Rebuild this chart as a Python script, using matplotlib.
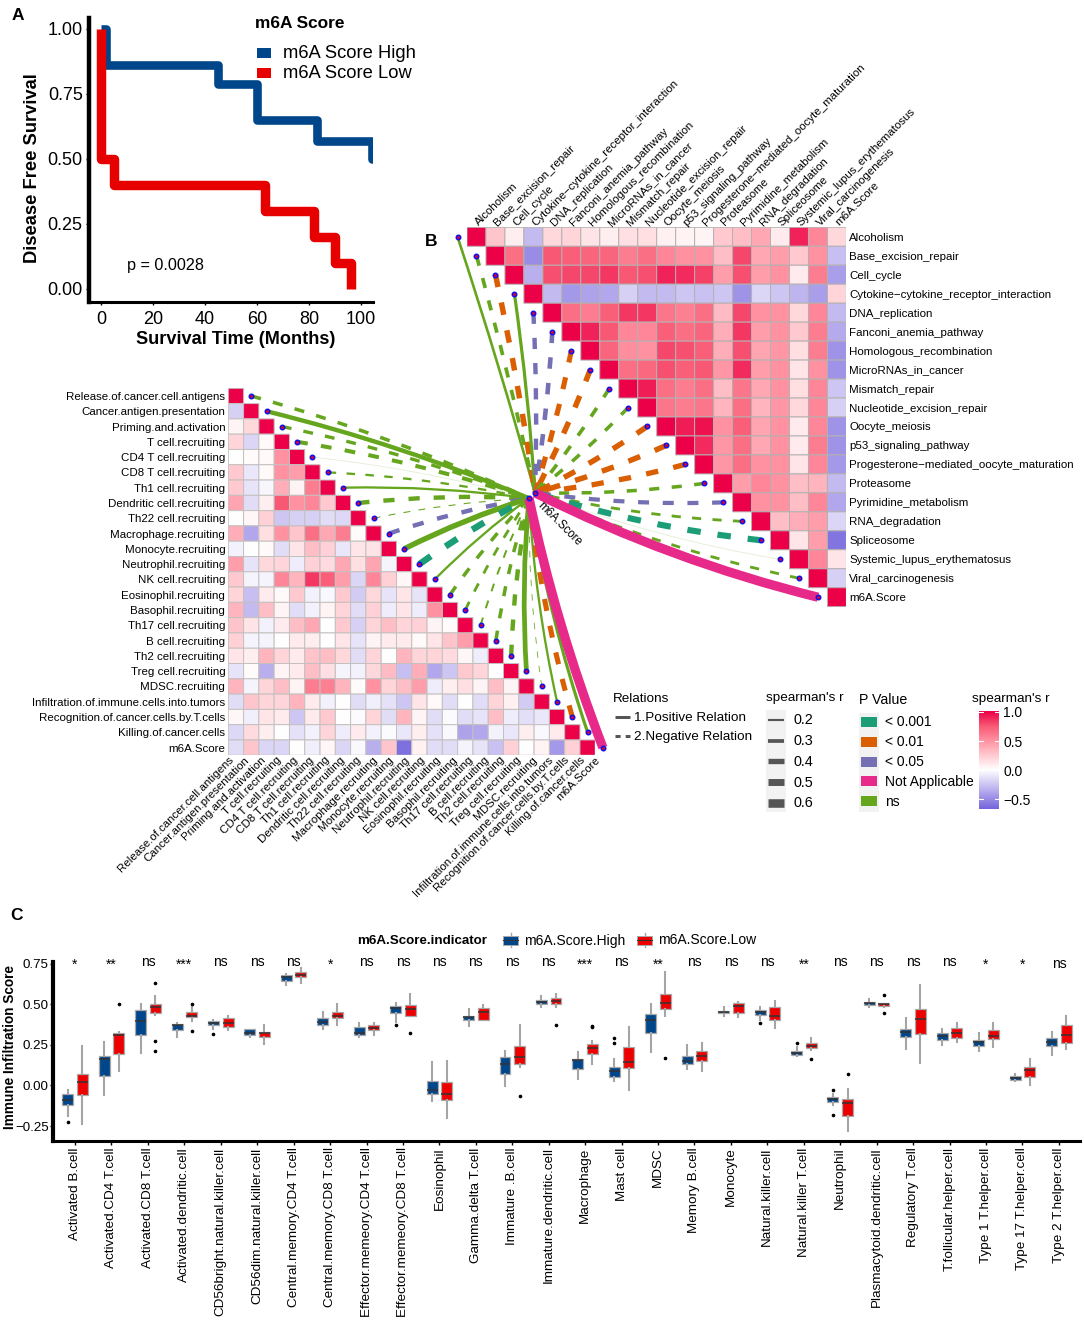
import numpy as np
import matplotlib
matplotlib.use("Agg")
import matplotlib.pyplot as plt
from matplotlib.colors import LinearSegmentedColormap, TwoSlopeNorm
from matplotlib.patches import PathPatch, Rectangle
from matplotlib.path import Path

plt.rcParams['font.family'] = ['Liberation Sans', 'DejaVu Sans']
W, H = 1084, 1324

# ---------- Panel A data ----------
km_high_t = [0, 2, 45, 60, 83, 104.3, 110]
km_high_s = [1.0, 0.86, 0.79, 0.65, 0.57, 0.50, 0.50]
km_low_t = [0, 0.01, 5, 63, 82, 90, 96, 96]
km_low_s = [1.0, 0.5, 0.40, 0.30, 0.20, 0.10, 0.0, 0.0]

# ---------- Panel B data ----------
b_labels = ["Alcoholism", "Base_excision_repair", "Cell_cycle", "Cytokine\u2212cytokine_receptor_interaction",
            "DNA_replication", "Fanconi_anemia_pathway", "Homologous_recombination", "MicroRNAs_in_cancer",
            "Mismatch_repair", "Nucleotide_excision_repair", "Oocyte_meiosis", "p53_signaling_pathway",
            "Progesterone\u2212mediated_oocyte_maturation", "Proteasome", "Pyrimidine_metabolism", "RNA_degradation",
            "Spliceosome", "Systemic_lupus_erythematosus", "Viral_carcinogenesis", "m6A.Score"]
b_rows = [
    [1, .27, .08, -.3, .18, .2, .13, .08, .15, .15, .07, .06, .05, .25, .3, .4, .1, .9, .55, .18],
    [1, .65, -.5, .75, .72, .7, .7, .6, .65, .55, .5, .5, .3, .8, .4, .45, .25, .5, -.28],
    [1, -.35, .78, .8, .8, .85, .75, .78, .9, .88, .82, .45, .78, .45, .5, .1, .6, -.42],
    [1, -.3, -.45, -.4, -.38, -.2, -.3, -.3, -.25, -.27, -.25, -.47, -.18, -.25, -.32, -.42, .2],
    [1, .65, .6, .72, .85, .85, .62, .58, .65, .32, .8, .5, .5, .18, .55, -.3],
    [1, .9, .75, .55, .55, .72, .65, .7, .38, .85, .45, .5, .25, .6, -.37],
    [1, .7, .52, .5, .8, .78, .72, .38, .78, .42, .48, .15, .6, -.47],
    [1, .65, .68, .78, .72, .75, .48, .88, .45, .5, .12, .5, -.47],
    [1, .92, .65, .6, .65, .3, .62, .4, .5, .15, .55, -.25],
    [1, .62, .6, .62, .35, .65, .35, .48, .18, .55, -.2],
    [1, .92, .95, .5, .72, .42, .5, .1, .55, -.47],
    [1, .88, .48, .65, .4, .5, .1, .6, -.47],
    [1, .48, .65, .5, .5, .12, .55, -.45],
    [1, .45, .55, .5, .3, .35, -.3],
    [1, .5, .5, .3, .55, -.38],
    [1, .3, .38, .45, -.18],
    [1, .12, .45, -.6],
    [1, .55, .12],
    [1, -.2],
    [1],
]
b_link_r = [.22, -.28, -.38, .25, -.32, -.33, -.36, -.38, -.28, -.27, -.38, -.38, -.37, -.27, -.31, -.23, -.42, .05, -.23, .6]
b_link_p = ["ns", "ns", "<0.01", "ns", "<0.05", "<0.05", "<0.01", "<0.01", "ns", "ns", "<0.01", "<0.01", "<0.01",
            "ns", "<0.05", "ns", "<0.001", "ns", "ns", "NA"]

# ---------- Immune-cycle heatmap data ----------
l_labels = ["Release.of.cancer.cell.antigens", "Cancer.antigen.presentation", "Priming.and.activation",
            "T cell.recruiting", "CD4 T cell.recruiting", "CD8 T cell.recruiting", "Th1 cell.recruiting",
            "Dendritic cell.recruiting", "Th22 cell.recruiting", "Macrophage.recruiting", "Monocyte.recruiting",
            "Neutrophil.recruiting", "NK cell.recruiting", "Eosinophil.recruiting", "Basophil.recruiting",
            "Th17 cell.recruiting", "B cell.recruiting", "Th2 cell.recruiting", "Treg cell.recruiting",
            "MDSC.recruiting", "Infiltration.of.immune.cells.into.tumors", "Recognition.of.cancer.cells.by.T.cells",
            "Killing.of.cancer.cells", "m6A.Score"]
l_rows = [
    [1],
    [-.2, 1],
    [.05, .18, 1],
    [.2, -.18, .03, 1],
    [0, .02, .03, .5, 1],
    [.25, -.1, .03, .5, .45, 1],
    [.25, -.12, -.04, .38, .05, .6, 1],
    [.42, -.15, .08, .75, .5, .55, .25, 1],
    [0, .04, .22, -.25, -.2, -.2, -.15, -.17, 1],
    [.38, -.38, .15, .5, .27, .65, .4, .6, .02, 1],
    [-.06, 0, .03, -.15, .12, .3, .22, -.1, .12, .13, 1],
    [.45, -.12, .18, .2, -.08, .22, .17, .4, .15, .42, -.05, 1],
    [.25, -.05, -.05, .55, .35, .85, .72, .45, -.18, .55, .22, .04, 1],
    [.2, -.28, .1, .03, .25, -.06, -.03, .25, -.22, .18, -.12, .12, -.12, 1],
    [.35, -.3, .3, .05, -.15, -.06, .06, .2, -.15, .22, -.08, .12, -.08, .5, 1],
    [.28, .13, -.06, .1, .3, .4, 0, .25, -.2, .2, .3, .2, .22, .05, .02, 1],
    [.22, -.05, -.05, 0, .1, .08, 0, .12, -.12, .05, .1, .1, .03, .12, .28, .45, 1],
    [.12, .08, .35, .2, .1, .28, .3, .18, -.15, .2, 0, .35, .2, .2, .17, .04, -.08, 1],
    [-.12, .02, -.35, .05, .1, .3, .15, -.05, -.06, .18, .32, -.28, .38, -.38, -.25, .25, .2, 0, 1],
    [.35, -.05, .2, .3, .05, .6, .58, .35, .02, .5, .2, .3, .45, -.08, .08, .15, .05, .3, .05, 1],
    [-.15, .27, .2, .2, .35, .1, -.06, 0, -.15, -.07, -.13, -.25, .12, .03, -.15, 0, -.15, .2, .07, -.22, 1],
    [.04, -.07, .12, .1, -.25, .1, .25, 0, -.02, .2, -.15, .35, .05, -.15, -.02, -.15, -.12, .3, -.08, -.14, -.1, 1],
    [-.17, .17, .08, 0, -.13, -.06, .2, -.08, .1, -.06, -.02, -.1, .08, -.13, -.03, -.4, -.38, -.06, -.1, .08, -.03, .1, 1],
    [-.15, .27, -.18, -.18, 0, -.07, .04, -.18, -.03, -.35, .27, -.62, .07, -.15, -.15, -.05, -.12, -.27, .22, 0, .06, -.45, .22, 1],
]
l_link_r = [-.27, .32, -.26, -.3, .05, -.2, .2, -.32, -.13, -.32, .38, -.44, .2, -.27, -.23, -.18, -.27, -.32, .34, -.1, .2, -.36, .25, .6]
l_link_p = ["ns", "ns", "ns", "ns", "ns", "ns", "ns", "ns", "ns", "<0.05", "ns", "<0.001", "ns", "ns", "ns", "ns", "ns",
            "ns", "ns", "ns", "ns", "<0.01", "ns", "NA"]

# ---------- Legend data ----------
size_levels = [0.2, 0.3, 0.4, 0.5, 0.6]
p_levels = ["< 0.001", "< 0.01", "< 0.05", "Not Applicable", "ns"]
p_keys = ["<0.001", "<0.01", "<0.05", "NA", "ns"]
p_colors = {"<0.001": "#1B9E77", "<0.01": "#D95F02", "<0.05": "#7570B3", "NA": "#E7298A", "ns": "#66A61E"}
cbar_ticks = [1.0, 0.5, 0.0, -0.5]

# ---------- Panel C data ----------
cells = ["Activated B.cell", "Activated.CD4 T.cell", "Activated.CD8 T.cell", "Activated.dendritic.cell",
         "CD56bright.natural.killer.cell", "CD56dim.natural.killer.cell", "Central.memory.CD4 T.cell",
         "Central.memory.CD8 T.cell", "Effector.memeory.CD4 T.cell", "Effector.memeory.CD8 T.cell", "Eosinophil",
         "Gamma.delta T.cell", "Immature .B.cell", "Immature.dendritic.cell", "Macrophage", "Mast cell", "MDSC",
         "Memory B.cell", "Monocyte", "Natural.killer.cell", "Natural.killer T.cell", "Neutrophil",
         "Plasmacytoid.dendritic.cell", "Regulatory T.cell", "T.follicular.helper.cell", "Type 1 T.helper.cell",
         "Type 17 T.helper.cell", "Type 2 T.helper.cell"]
signif = ["*", "**", "ns", "***", "ns", "ns", "ns", "*", "ns", "ns", "ns", "ns", "ns", "ns", "***", "ns", "**", "ns",
          "ns", "ns", "**", "ns", "ns", "ns", "ns", "*", "*", "ns"]
# each box: whisker low, q1, median, q3, whisker high
high_box = [(-.19, -.12, -.09, -.05, -.03), (-.06, .06, .165, .18, .265), (.2, .31, .395, .465, .5),
            (.3, .34, .37, .38, .385), (.345, .37, .385, .395, .405), (.3, .31, .325, .345, .35),
            (.615, .645, .665, .68, .685), (.35, .37, .39, .415, .455), (.3, .31, .325, .36, .385),
            (.39, .445, .475, .49, .505), (-.095, -.055, -.025, .025, .145), (.365, .4, .42, .43, .47),
            (-.005, .07, .135, .175, .21), (.48, .5, .515, .525, .55), (.04, .1, .155, .165, .205),
            (.03, .05, .09, .115, .165), (.205, .32, .405, .44, .5), (.1, .13, .15, .18, .25),
            (.425, .445, .45, .46, .48), (.4, .435, .45, .465, .48), (.18, .19, .2, .215, .235),
            (-.12, -.1, -.085, -.07, -.055), (.48, .495, .505, .515, .53), (.225, .3, .33, .35, .415),
            (.25, .28, .305, .325, .35), (.21, .245, .265, .28, .325), (.03, .035, .045, .06, .07),
            (.19, .245, .27, .295, .33)]
low_box = [(-.24, -.06, .02, .07, .24), (.09, .195, .31, .32, .33), (.435, .445, .485, .5, .55),
           (.395, .42, .43, .45, .48), (.34, .36, .385, .415, .43), (.255, .3, .32, .33, .375),
           (.63, .665, .68, .695, .72), (.37, .415, .43, .455, .5), (.31, .34, .355, .375, .385),
           (.425, .43, .47, .495, .565), (-.2, -.09, -.05, .02, .15), (.4, .405, .45, .475, .495),
           (.115, .135, .175, .245, .375), (.48, .5, .52, .535, .56), (.13, .195, .23, .255, .275),
           (-.03, .11, .145, .235, .36), (.425, .47, .51, .565, .695), (.09, .15, .18, .215, .26),
           (.42, .445, .49, .51, .515), (.355, .405, .425, .48, .52), (.22, .23, .245, .26, .295),
           (-.28, -.19, -.11, -.085, -.02), (.485, .49, .5, .505, .51), (.14, .315, .41, .47, .615),
           (.27, .29, .325, .355, .385), (.235, .285, .305, .34, .385), (.005, .055, .095, .115, .165),
           (.225, .26, .31, .37, .43)]
high_fliers = {0: [-.225], 4: [.315], 9: [.37], 15: [.295, .26], 19: [.385], 20: [.26], 21: [-.025, -.18]}
low_fliers = {1: [.5], 2: [.63, .275, .215], 3: [.5, .335], 9: [.32], 12: [-.065], 13: [.375], 14: [.36, .365],
              16: [.17], 20: [.16], 21: [.07], 22: [.555, .445]}

NAVY, RED = "#00468B", "#ED0000"

fig = plt.figure(figsize=(W / 100, H / 100), dpi=100, facecolor="white")


def ax_px(l, t, r, b, **kw):
    return fig.add_axes([l / W, 1 - b / H, (r - l) / W, (b - t) / H], **kw)


# ========== Panel A ==========
axA = ax_px(89, 18, 373, 302)
axA.step(km_high_t, km_high_s, where="post", color=NAVY, lw=6.2, solid_joinstyle="round", solid_capstyle="butt")
axA.step(km_low_t, km_low_s, where="post", color="#E60000", lw=6.8, solid_joinstyle="round", solid_capstyle="butt")
axA.set_xlim(-4.6, 104.6)
axA.set_ylim(-0.05, 1.042)
axA.set_xticks([0, 20, 40, 60, 80, 100])
axA.set_yticks([0, .25, .5, .75, 1], ["0.00", "0.25", "0.50", "0.75", "1.00"])
axA.tick_params(labelsize=13, length=2.5, width=1, pad=2)
axA.tick_params(axis="x", pad=4)
for s in ("top", "right"):
    axA.spines[s].set_visible(False)
axA.spines["left"].set_linewidth(3.2)
axA.spines["bottom"].set_linewidth(2.2)
axA.set_xlabel("Survival Time (Months)", fontsize=13.1, fontweight="bold", labelpad=2, x=0.515)
axA.set_ylabel("Disease Free Survival", fontsize=13.2, fontweight="bold", labelpad=5, y=0.472)
axA.text(10, 0.09, "p = 0.0028", fontsize=11.6, va="center")

# ========== Heatmaps ==========
cmap = LinearSegmentedColormap.from_list("rwb", [(0, "#7565DC"), (.25, "#BCB2EE"), (.5, "#FFFFFF"), (.625, "#FFCAD0"),
                                                 (.75, "#FF92A2"), (.875, "#F85A74"), (1, "#EC0048")])
norm = TwoSlopeNorm(vmin=-.67, vcenter=0, vmax=1.0)

# Panel B: upper triangle, diagonal at the start of each row
bL, bT, bSize = 467.0, 227.3, 18.97
nb = len(b_labels)
M = np.full((nb, nb), np.nan)
for i, row in enumerate(b_rows):
    M[i, i:i + len(row)] = row
axB = ax_px(bL, bT, bL + nb * bSize, bT + nb * bSize)
axB.pcolor(np.ma.masked_invalid(M), cmap=cmap, norm=norm, edgecolors="#B5B0B0", linewidth=0.7)
axB.set_xlim(0, nb)
axB.set_ylim(nb, 0)
axB.axis("off")

# Immune cycle: lower triangle, diagonal at the end of each row
lL, lT, lSize = 228.3, 388.3, 15.29
nl = len(l_labels)
N = np.full((nl, nl), np.nan)
for i, row in enumerate(l_rows):
    N[i, :len(row)] = row
axL = ax_px(lL, lT, lL + nl * lSize, lT + nl * lSize)
axL.pcolor(np.ma.masked_invalid(N), cmap=cmap, norm=norm, edgecolors="#C4C0C0", linewidth=0.7)
axL.set_xlim(0, nl)
axL.set_ylim(nl, 0)
axL.axis("off")

# ========== Overlay in pixel space ==========
ov = fig.add_axes([0, 0, 1, 1], facecolor="none", zorder=5)
ov.set_xlim(0, W)
ov.set_ylim(H, 0)
ov.axis("off")
PX = 72 / 100  # points per pixel


def link_width(r):
    return max(0.8, 2.3 + (abs(r) - .2) * 17.5)


def draw_links(nodes, hub, rs, ps, bend):
    for k, ((x, y), r, p) in enumerate(zip(nodes, rs, ps)):
        dx, dy = hub[0] - x, hub[1] - y
        c = bend(k / (len(nodes) - 1))
        ctrl = (x + dx / 2 + dy * c, y + dy / 2 - dx * c)
        w = link_width(r)
        ls = "-"
        if r < 0:
            ls = (0, ((5.5 + 1.3 * w) / w, (6.5 + 1.7 * w) / w))
        path = Path([(x, y), ctrl, hub], [Path.MOVETO, Path.CURVE3, Path.CURVE3])
        ov.add_patch(PathPatch(path, fc="none", ec=p_colors[p], lw=w * PX, linestyle=ls, capstyle="butt",
                               alpha=0.2 if abs(r) < .08 else 1))
    pts = np.array(nodes + [hub])
    ov.plot(pts[:, 0], pts[:, 1], ls="none", marker="o", ms=3.2, mfc="#D8003C", mec="#1010E8", mew=1.1, zorder=6)


left_hub = (529.0, 498.3)
right_hub = (535.0, 492.8)
left_nodes = [(lL + (i + 1.5) * lSize, lT + (i + .5) * lSize) for i in range(nl)]
right_nodes = [(bL + (i - .5) * bSize, bT + (i + .5) * bSize) for i in range(nb)]
draw_links(left_nodes, left_hub, l_link_r, l_link_p, lambda t: .04)
draw_links(right_nodes, right_hub, b_link_r, b_link_p, lambda t: .012 + .043 * t)
ov.text(539, 504, "m6A.Score", rotation=-45, rotation_mode="anchor", fontsize=8.3, ha="left", va="center")

LAB = 8.25
for i, s in enumerate(b_labels):
    ov.text(bL + nb * bSize + 3, bT + (i + .5) * bSize + 1, s, fontsize=LAB, va="center", ha="left")
    ov.text(bL + (i + .5) * bSize, bT - 3, s, fontsize=LAB, rotation=45, rotation_mode="anchor",
            ha="left", va="center")
for i, s in enumerate(l_labels):
    ov.text(lL - 3, lT + (i + .5) * lSize + 1, s, fontsize=LAB, va="center", ha="right")
    ov.text(232 + i * 15.95, lT + nl * lSize + 3, s, fontsize=LAB, rotation=45, rotation_mode="anchor",
            ha="right", va="center")

# Panel letters
ov.text(12, 16, "A", fontsize=12.5, fontweight="bold", ha="left", va="center")
ov.text(425, 242, "B", fontsize=12.5, fontweight="bold", ha="left", va="center")
ov.text(10, 915, "C", fontsize=12.5, fontweight="bold", ha="left", va="center")

# Panel A legend
ov.text(255, 23, "m6A Score", fontsize=12.4, fontweight="bold", va="center")
for name, col, yc in [("m6A Score High", NAVY, 53), ("m6A Score Low", "#E60000", 73)]:
    ov.add_patch(Rectangle((257, yc - 5), 14, 10, fc=col, ec="none"))
    ov.text(283, yc, name, fontsize=13.2, va="center")

# Relations legend
LEG = 9.7
ov.text(613, 699, "Relations", fontsize=LEG, va="center")
ov.plot([615, 630], [717, 717], color="#555555", lw=3 * PX, solid_capstyle="butt")
ov.plot([615, 630], [736, 736], color="#555555", lw=3 * PX, ls=(0, (1.7, 1.7)))
ov.text(634, 718, "1.Positive Relation", fontsize=LEG, va="center")
ov.text(634, 737, "2.Negative Relation", fontsize=LEG, va="center")

# spearman's r line-width legend
ov.text(766, 698, "spearman's r", fontsize=LEG, va="center")
ov.add_patch(Rectangle((766, 710), 20, 102, fc="#F2F2F2", ec="none"))
for k, v in enumerate(size_levels):
    yc = 720 + k * 20.7
    ov.plot([768, 784], [yc, yc], color="#555555", lw=link_width(v) * PX * .92, solid_capstyle="butt")
    ov.text(793, yc + .5, f"{v:.1f}", fontsize=10.4, va="center")

# P value legend
ov.text(859, 700, "P Value", fontsize=10.2, va="center")
ov.add_patch(Rectangle((859, 713), 20, 99, fc="#F2F2F2", ec="none"))
for k, (lab, key) in enumerate(zip(p_levels, p_keys)):
    yc = 722 + k * 19.8
    ov.add_patch(Rectangle((861, yc - 5), 16, 10, fc=p_colors[key], ec="none"))
    ov.text(885, yc + .5, lab, fontsize=10, va="center")

# Colour bar
axC = ax_px(979, 710.7, 999, 809.3)
grad = np.linspace(1.02, -.67, 200).reshape(-1, 1)
axC.imshow(grad, cmap=cmap, norm=norm, aspect="auto", extent=(0, 1, -.67, 1.02))
axC.set_xticks([])
axC.set_yticks(cbar_ticks, [f"{t:.1f}".replace("-", "\u2212") for t in cbar_ticks])
axC.tick_params(axis="y", left=False, right=False, labelleft=False, labelright=True, labelsize=10, pad=3, length=0)
for t in cbar_ticks:
    axC.plot([0, .2], [t, t], color="white", lw=.8)
    axC.plot([.8, 1], [t, t], color="white", lw=.8)
for s in axC.spines.values():
    s.set_visible(False)
ov.text(972, 699, "spearman's r", fontsize=LEG, va="center")

# ========== Panel C ==========
ax = ax_px(53, 962, 1080, 1140.5)
for boxes, fl, col, off in [(high_box, high_fliers, NAVY, -.2), (low_box, low_fliers, RED, .2)]:
    stats = [dict(whislo=b[0], q1=b[1], med=b[2], q3=b[3], whishi=b[4], fliers=fl.get(i, [])) for i, b in enumerate(boxes)]
    ax.bxp(stats, positions=np.arange(len(boxes)) + off, widths=.3, patch_artist=True, showcaps=False,
           boxprops=dict(facecolor=col, edgecolor="#A8A8A8", linewidth=.9),
           medianprops=dict(color="#333333", linewidth=1.1),
           whiskerprops=dict(color="#A5A5A5", linewidth=1.5),
           flierprops=dict(marker="o", ms=1.6, mfc="black", mec="black"))
ax.set_xlim(-.604, 27.58)
ax.set_ylim(-.3385, .7595)
ax.set_yticks([-.25, 0, .25, .5, .75], ["\u22120.25", "0.00", "0.25", "0.50", "0.75"])
ax.set_xticks(range(len(cells)), cells, rotation=90)
ax.tick_params(axis="y", labelsize=9.6, length=2.5, width=1, pad=.5)
ax.tick_params(axis="x", labelsize=9.7, length=3, width=1, pad=2)
for s in ("top", "right"):
    ax.spines[s].set_visible(False)
ax.spines["left"].set_linewidth(3)
ax.spines["bottom"].set_linewidth(2.2)
ov.text(10, 1047, "Immune Infiltration Score", fontsize=9.8, fontweight="bold", rotation=90, ha="center", va="center")
for i, s in enumerate(signif):
    yy = 962.5 if s == "ns" else 965
    if i == len(signif) - 1:
        yy += 2
    ov.text(75 + i * 36.44, yy, s, fontsize=10, ha="center", va="center")

# Panel C legend
ov.text(357, 940.5, "m6A.Score.indicator", fontsize=9.6, fontweight="bold", va="center")
for x0, name, col in [(503, "m6A.Score.High", NAVY), (637, "m6A.Score.Low", RED)]:
    ov.plot([x0 + 7.5, x0 + 7.5], [933, 947], color="#A5A5A5", lw=1)
    ov.add_patch(Rectangle((x0, 935.5), 15, 9, fc=col, ec="#A8A8A8", lw=.7, zorder=3))
    ov.plot([x0, x0 + 15], [940, 940], color="#333333", lw=.8, zorder=4)
    ov.text(x0 + 21, 940.5, name, fontsize=10, va="center")

fig.savefig("out.png", dpi=100)
